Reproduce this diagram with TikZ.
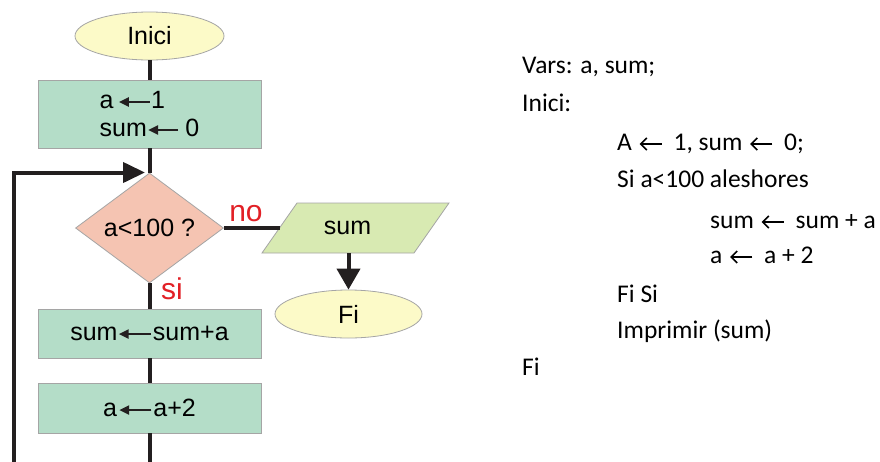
\documentclass[tikz,border=0pt]{standalone}
\usepackage{fontspec}
\setmainfont{Liberation Sans}
\newfontfamily\codefont{Carlito}
\usetikzlibrary{shapes.geometric,arrows.meta}
\definecolor{ovalfill}{RGB}{252,250,200}
\definecolor{boxfill}{RGB}{180,221,200}
\definecolor{diafill}{RGB}{245,196,178}
\definecolor{iofill}{RGB}{216,234,178}
\definecolor{shapeborder}{RGB}{165,165,165}
\definecolor{linecol}{RGB}{35,31,32}
\definecolor{labred}{RGB}{226,32,38}
\newcommand{\flarr}[1][30pt]{\tikz[baseline=0pt]\draw[line width=2.4pt,draw=linecol,fill=linecol,-{Triangle[length=10pt,width=9pt]}] (#1,6.5pt)--(0pt,6.5pt);}
\newcommand{\codearr}{\hspace{7pt}\tikz[baseline=0pt]\draw[line width=1.5pt,-{Straight Barb[length=6pt,width=12pt]}] (23pt,6pt)--(0.8pt,6pt);\hspace{11pt}}
\begin{document}
\begin{tikzpicture}[x=1pt,y=-1pt,
  flow/.style={line width=4pt,draw=linecol},
  flowfont/.style={font=\fontsize{25}{28}\selectfont},
  oval/.style={ellipse,draw=shapeborder,line width=0.8pt,fill=ovalfill,minimum width=149pt,minimum height=48pt,inner sep=0pt,flowfont},
  procbox/.style={rectangle,draw=shapeborder,line width=0.8pt,fill=boxfill,minimum width=223pt,inner sep=0pt,flowfont},
  decision/.style={diamond,draw=shapeborder,line width=0.8pt,fill=diafill,minimum width=148pt,minimum height=110pt,inner sep=0pt,flowfont},
  ioshape/.style={draw=shapeborder,line width=0.8pt,fill=iofill},
  iotext/.style={rectangle,minimum width=152pt,minimum height=50pt,inner sep=0pt,flowfont},
  branchlabel/.style={text=labred,font=\fontsize{30}{32}\selectfont,inner sep=0pt},
  codeline/.style={anchor=base west,inner sep=0pt,font=\codefont\fontsize{25.5}{28}\selectfont}
]
\clip (0,0) rectangle (880,461);
\fill[white] (0,0) rectangle (880,461);

% flowchart nodes
\node[oval] (start) at (149.5,36) {Inici};
\node[procbox,minimum height=68pt,align=left] (init) at (149.5,114) {a\hspace{4pt}\flarr[31pt]1\\sum\flarr[30pt]\hspace{6pt}0};
\node[decision] (test) at (149.5,228) {a<100 ?};
\coordinate (outc) at (355.5,228);
\path[ioshape] ([shift={(-93.5,25)}]outc) -- ([shift={(58.5,25)}]outc) -- ([shift={(93.5,-25)}]outc) -- ([shift={(-58.5,-25)}]outc) -- cycle;
\node[iotext] (out) at (outc) {\hspace*{-16pt}sum};
\node[oval,minimum width=147pt] (end) at (348.5,314) {Fi};
\node[procbox,minimum height=49pt] (acc) at (149.5,333.5) {sum\flarr[32pt]\hspace{1pt}sum+a};
\node[procbox,minimum height=50pt] (inc) at (149.5,408) {a\hspace{1pt}\flarr[32pt]\hspace{1pt}a+2};

% labels
\node[branchlabel] (nolab) at (246,214) {no};
\node[branchlabel] (silab) at (172,289) {si};

% connectors
\draw[flow] (start) -- (init);
\draw[flow] (init) -- (test);
\draw[flow] (test) -- (acc);
\draw[flow] (acc) -- (inc);
\draw[flow] (test.east) -- ([xshift=1pt]out.west);
\draw[flow,-{Triangle[length=21pt,width=23pt]}] (end.north |- out.south) -- (end.north);
\coordinate (mainbot) at (149.5,480);
\coordinate (leftbot) at (13.5,480);
\coordinate (loopend) at (145,172.5);
\draw[flow,-{Triangle[length=22pt,width=20pt]}] (inc.south) -- (mainbot) -- (leftbot) |- (loopend);

% pseudocode
\node[codeline] (l1) at (522,73) {Vars: a, sum;};
\node[codeline] (l2) at (522,111.5) {Inici:};
\node[codeline] (l3) at (617,150) {A\codearr1, sum\codearr0;};
\node[codeline] (l4) at (617,187) {Si a<100 aleshores};
\node[codeline] (l5) at (710,228) {sum\codearr sum + a};
\node[codeline] (l6) at (710,263) {a\codearr a + 2};
\node[codeline] (l7) at (617,302) {Fi Si};
\node[codeline] (l8) at (617,338) {Imprimir (sum)};
\node[codeline] (l9) at (522,375) {Fi};
\end{tikzpicture}
\end{document}
